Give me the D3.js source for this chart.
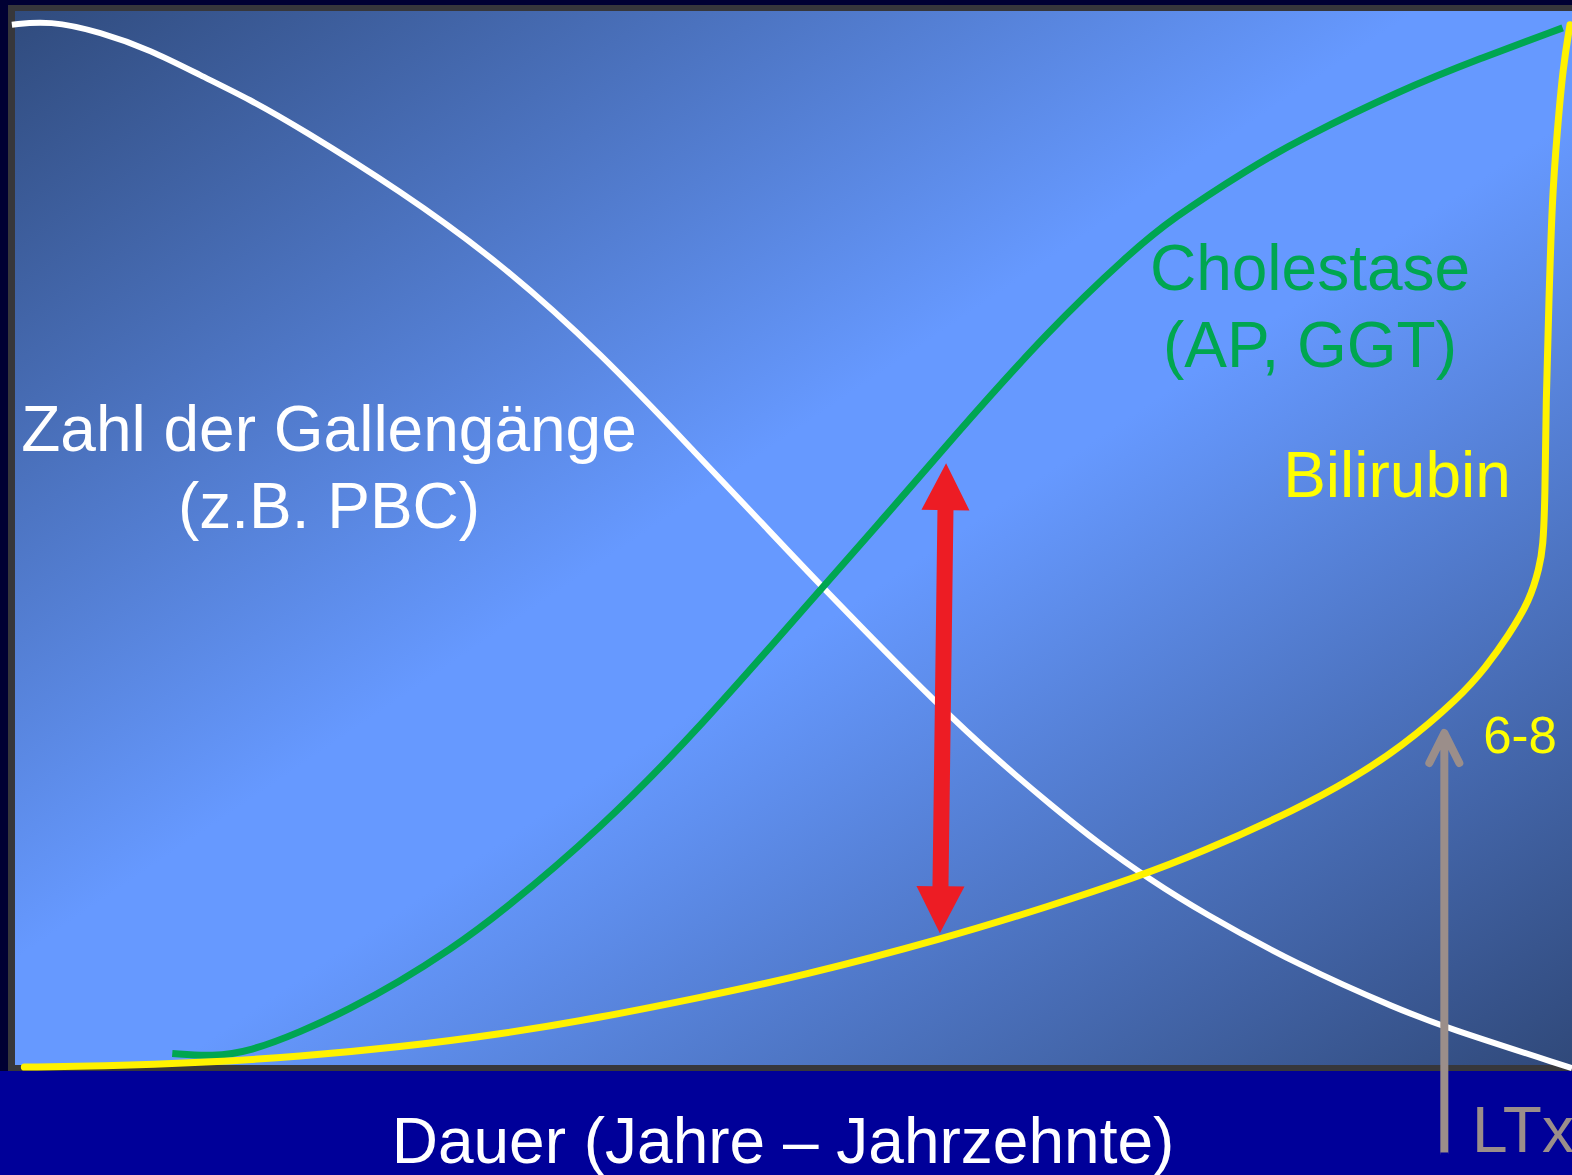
<!DOCTYPE html>
<html>
<head>
<meta charset="utf-8">
<script src="https://cdn.jsdelivr.net/npm/d3@7"></script>
<style>
	html, body { margin: 0; padding: 0; background: #000033; overflow: hidden; }
	svg { display: block; }
	text { font-family: "Liberation Sans", Arial, Helvetica, sans-serif; }
</style>
</head>
<body>
<div id="chart"></div>
<script>
// Dauer (0-100) vs relative Werte (0-100)
var gangDauer   = [-0.2, 2.2, 5.5, 8.7, 11.9, 15.1, 18.3, 24.7, 31.1, 37.6, 44.0, 47.8, 51.6, 59.7, 63.3, 66.5, 69.7, 72.9, 76.1, 82.5, 89.0, 91.8, 100];
var gangZahl    = [98.7, 99.1, 98.0, 96.3, 93.9, 91.6, 88.9, 83.0, 76.2, 67.6, 57.6, 51.7, 45.7, 33.5, 28.7, 24.7, 20.9, 17.6, 14.6, 9.4, 5.2, 3.6, -0.3];

var cholDauer   = [10.1, 12.7, 15.1, 18.3, 21.5, 24.7, 27.9, 31.1, 37.6, 44.0, 51.6, 55.7, 60.1, 66.5, 71.6, 74.2, 79.3, 82.5, 89.0, 94.1, 99.4];
var cholWert    = [1.1, 0.8, 1.3, 3.1, 5.3, 7.9, 10.9, 14.3, 22.4, 32.0, 44.9, 51.7, 59.3, 69.9, 77.0, 80.2, 85.1, 87.8, 92.5, 95.5, 98.4];

var biliDauer   = [0.6, 5.5, 11.9, 18.3, 24.7, 31.1, 37.6, 44.0, 50.4, 59.7, 66.5, 71.8, 76.1, 82.5, 85.7, 89.0, 92.8, 94.5, 95.9, 97.3, 97.9, 98.14, 98.27, 98.33, 98.52, 98.72, 99.04, 99.42, 99.87];
var biliWert    = [-0.2, -0.1, 0.2, 0.8, 1.7, 2.9, 4.5, 6.4, 8.4, 12.0, 15.1, 17.7, 20.1, 24.4, 27.0, 30.1, 34.9, 37.8, 40.7, 44.1, 47.2, 49.1, 53.6, 63.1, 72.6, 82.1, 88.4, 94.7, 98.7];

// annotations: [dauer, wert] pairs
var doppelPfeil = [[59.8, 57.1], [59.4, 12.5]];
var ltxPfeil    = [[91.8, 31.5], [91.8, -8.3]];

var labels = [
	{ lines: ["Zahl der Gallengänge", "(z.B. PBC)"], x: 329, y: 451, color: "#ffffff", size: 64, anchor: "middle" },
	{ lines: ["Cholestase", "(AP, GGT)"], x: 1310, y: 290, color: "#00a650", size: 64, anchor: "middle" },
	{ lines: ["Bilirubin"], x: 1397, y: 497, color: "#ffff00", size: 64, anchor: "middle" },
	{ lines: ["6-8"], x: 1520, y: 753, color: "#ffff00", size: 51, anchor: "middle" },
	{ lines: ["LTx"], x: 1472, y: 1152, color: "#9b8e8a", size: 64, anchor: "start" },
	{ lines: ["Dauer (Jahre \u2013 Jahrzehnte)"], x: 783, y: 1163, color: "#ffffff", size: 64, anchor: "middle" }
];

(function(){
	var W = 1572, H = 1175;
	var plot = { left: 15, top: 11, right: 1572, bottom: 1065 };

	var svg = d3.select("#chart").append("svg")
		.attr("width", W)
		.attr("height", H);

	var x = d3.scaleLinear().domain([0, 100]).range([plot.left, plot.right]);
	var y = d3.scaleLinear().domain([0, 100]).range([plot.bottom, plot.top]);

	// background gradient (dark - light - dark along the diagonal)
	var defs = svg.append("defs");
	var grad = defs.append("linearGradient")
		.attr("id", "bg")
		.attr("x1", 0).attr("y1", 0)
		.attr("x2", 1).attr("y2", 1);
	grad.append("stop").attr("offset", "0%").attr("stop-color", "#304b7d");
	grad.append("stop").attr("offset", "45%").attr("stop-color", "#6699ff");
	grad.append("stop").attr("offset", "55%").attr("stop-color", "#6699ff");
	grad.append("stop").attr("offset", "100%").attr("stop-color", "#30497a");

	svg.append("rect")
		.attr("x", 0).attr("y", 0)
		.attr("width", W).attr("height", H)
		.attr("fill", "#000033");

	svg.append("rect")
		.attr("x", 0).attr("y", plot.bottom + 6)
		.attr("width", W).attr("height", H - plot.bottom - 6)
		.attr("fill", "#000099");

	// frame
	svg.append("rect")
		.attr("x", plot.left - 7).attr("y", plot.top - 6)
		.attr("width", W).attr("height", plot.bottom - plot.top + 12)
		.attr("fill", "#37373b");

	svg.append("rect")
		.attr("x", plot.left).attr("y", plot.top)
		.attr("width", plot.right - plot.left).attr("height", plot.bottom - plot.top)
		.attr("fill", "url(#bg)");

	// B-spline keeps the hand-drawn curves smooth
	var line = d3.line()
		.x(function(d){ return x(d[0]); })
		.y(function(d){ return y(d[1]); })
		.curve(d3.curveBasis);

	function series(xs, ys){
		return xs.map(function(v, i){ return [v, ys[i]]; });
	}

	svg.append("path")
		.datum(series(gangDauer, gangZahl))
		.attr("d", line)
		.attr("fill", "none")
		.attr("stroke", "#ffffff")
		.attr("stroke-width", 6);

	svg.append("path")
		.datum(series(cholDauer, cholWert))
		.attr("d", line)
		.attr("fill", "none")
		.attr("stroke", "#00a651")
		.attr("stroke-width", 7);

	svg.append("path")
		.datum(series(biliDauer, biliWert))
		.attr("d", line)
		.attr("fill", "none")
		.attr("stroke", "#fff200")
		.attr("stroke-width", 7)
		.attr("stroke-linecap", "round");

	// red double arrow
	var p0 = [x(doppelPfeil[0][0]), y(doppelPfeil[0][1])];
	var p1 = [x(doppelPfeil[1][0]), y(doppelPfeil[1][1])];
	var headLen = 47, headHalf = 24, shaftHalf = 8;
	var dx = p1[0] - p0[0], dy = p1[1] - p0[1];
	var len = Math.sqrt(dx * dx + dy * dy);
	var ux = dx / len, uy = dy / len, nx = -uy, ny = ux;
	function pt(base, along, side){
		return [base[0] + ux * along + nx * side, base[1] + uy * along + ny * side];
	}
	var arrowPts = [
		p0,
		pt(p0, headLen, headHalf),
		pt(p0, headLen, shaftHalf),
		pt(p1, -headLen, shaftHalf),
		pt(p1, -headLen, headHalf),
		p1,
		pt(p1, -headLen, -headHalf),
		pt(p1, -headLen, -shaftHalf),
		pt(p0, headLen, -shaftHalf),
		pt(p0, headLen, -headHalf)
	];
	svg.append("polygon")
		.attr("points", arrowPts.map(function(p){ return p.join(","); }).join(" "))
		.attr("fill", "#ed1c24");

	// LTx arrow (open head)
	var ltxTop = [x(ltxPfeil[0][0]), y(ltxPfeil[0][1])];
	var ltxBot = [x(ltxPfeil[1][0]), y(ltxPfeil[1][1])];
	svg.append("path")
		.attr("d", "M" + ltxBot[0] + "," + ltxBot[1] + "L" + ltxTop[0] + "," + (ltxTop[1] + 2) +
			"M" + (ltxTop[0] - 15) + "," + (ltxTop[1] + 30) + "L" + ltxTop[0] + "," + ltxTop[1] +
			"L" + (ltxTop[0] + 15) + "," + (ltxTop[1] + 30))
		.attr("fill", "none")
		.attr("stroke", "#9b8e8a")
		.attr("stroke-width", 8)
		.attr("stroke-linecap", "round")
		.attr("stroke-linejoin", "round");
	// flat bottom end for the shaft
	svg.append("rect")
		.attr("x", ltxBot[0] - 4).attr("y", ltxBot[1])
		.attr("width", 8).attr("height", 6)
		.attr("fill", "#000099");

	// labels
	labels.forEach(function(l){
		var t = svg.append("text")
			.attr("x", l.x).attr("y", l.y)
			.attr("fill", l.color)
			.attr("font-size", l.size)
			.attr("text-anchor", l.anchor);
		l.lines.forEach(function(s, i){
			t.append("tspan")
				.attr("x", l.x)
				.attr("dy", i === 0 ? 0 : 77)
				.text(s);
		});
	});
})();
</script>
</body>
</html>
